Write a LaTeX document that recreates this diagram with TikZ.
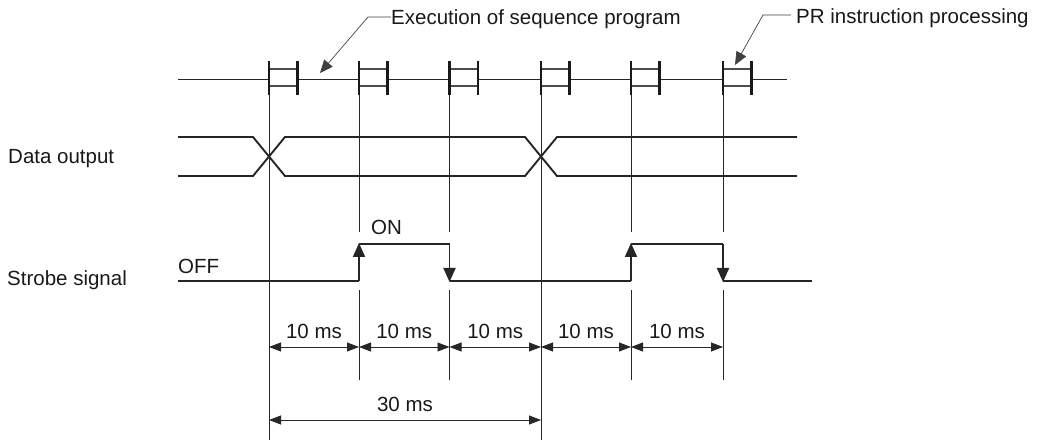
\documentclass[tikz,border=0pt]{standalone}
\usepackage{fontspec}
\setmainfont{Liberation Sans}
\usetikzlibrary{arrows.meta}
\begin{document}
\begin{tikzpicture}[x=1pt,y=-1pt,
  lbl/.style={font=\fontsize{20.5}{23}\selectfont, inner sep=0pt, text=black!90},
  sig/.style={line width=1.9pt, draw=black!85},
  thinl/.style={line width=0.8pt, draw=black!85},
  barl/.style={line width=2.2pt, draw=black!90},
  boxh/.style={line width=1.2pt, draw=black!70},
  uptip/.style={-{Triangle[length=14pt,width=12pt]}},
  lead/.style={line width=0.7pt, draw=black!75, -{Triangle[length=13pt,width=11pt]}},
  dimarr/.style={{Triangle[length=12pt,width=9pt]}-{Triangle[length=12pt,width=9pt]}, line width=0.8pt, draw=black!85}]
\useasboundingbox (0,0) rectangle (1041,446);

% time marks
\coordinate (t1) at (269,0);
\coordinate (t2) at (359,0);
\coordinate (t3) at (449.5,0);
\coordinate (t4) at (541,0);
\coordinate (t5) at (631,0);
\coordinate (t6) at (723,0);

% vertical guide lines
\draw[thinl] (269,95) -- (269,440);
\draw[thinl] (541,95) -- (541,440);
\foreach \x in {359,449.5,631,723} {
  \draw[thinl] (\x,95) -- (\x,232);
  \draw[thinl] (\x,290) -- (\x,380);
}

% top time line with processing boxes
\draw[thinl,line width=1pt] (178,80) -- (269,80);
\draw[thinl,line width=1pt] (297.5,80) -- (359,80);
\draw[thinl,line width=1pt] (387.5,80) -- (449.5,80);
\draw[thinl,line width=1pt] (478,80) -- (541,80);
\draw[thinl,line width=1pt] (569.5,80) -- (631,80);
\draw[thinl,line width=1pt] (659.5,80) -- (723,80);
\draw[thinl,line width=1pt] (751.5,80) -- (787,80);
\foreach \x in {269,359,449.5,541,631,723} {
  \draw[boxh] (\x,69) -- ++(28.5,0);
  \draw[boxh] (\x,86) -- ++(28.5,0);
  \draw[barl] (\x,61) -- (\x,95);
  \draw[barl] (\x+28.5,61) -- (\x+28.5,95);
}

% annotations
\node[lbl, anchor=base west] (exec) at (391,25) {Execution of sequence program};
\node[lbl, anchor=base west] (pr) at (796,24) {PR instruction processing};
\coordinate (execTip) at (320,73);
\coordinate (prTip) at (735,65);
\draw[lead] (exec.west |- 0,17) -- (368,17) -- (execTip);
\draw[lead] (pr.west |- 0,15) ++(-5,0) -- (763,15) -- (prTip);

% data output
\node[lbl, anchor=base west] (dout) at (8,164) {Data output};
\draw[sig] (178,137) -- (253,137) -- (285,176) -- (525,176) -- (557,137) -- (797,137);
\draw[sig] (178,176) -- (253,176) -- (285,137) -- (525,137) -- (557,176) -- (797,176);

% strobe signal
\node[lbl, anchor=base west] (strobe) at (7,286) {Strobe signal};
\node[lbl, anchor=base west] (off) at (178,273) {OFF};
\node[lbl, anchor=base west] (on) at (371,235) {ON};
\draw[sig] (178,281) -- (359,281);
\draw[sig,uptip] (359,281) -- (359,243);
\draw[sig] (359,244) -- (449.5,244);
\draw[sig,uptip] (449.5,244) -- (449.5,282);
\draw[sig] (449.5,281) -- (631,281);
\draw[sig,uptip] (631,281) -- (631,243);
\draw[sig] (631,244) -- (723,244);
\draw[sig,uptip] (723,244) -- (723,282);
\draw[sig] (723,281) -- (812,281);

% dimensions
\draw[dimarr] (269,347) -- node[lbl, above=8pt] (d1) {10 ms} (359,347);
\draw[dimarr] (359,347) -- node[lbl, above=8pt] (d2) {10 ms} (449.5,347);
\draw[dimarr] (449.5,347) -- node[lbl, above=8pt] (d3) {10 ms} (541,347);
\draw[dimarr] (541,347) -- node[lbl, above=8pt] (d4) {10 ms} (631,347);
\draw[dimarr] (631,347) -- node[lbl, above=8pt] (d5) {10 ms} (723,347);
\draw[dimarr] (269,420) -- node[lbl, above=8pt] (d6) {30 ms} (541,420);
\end{tikzpicture}
\end{document}
